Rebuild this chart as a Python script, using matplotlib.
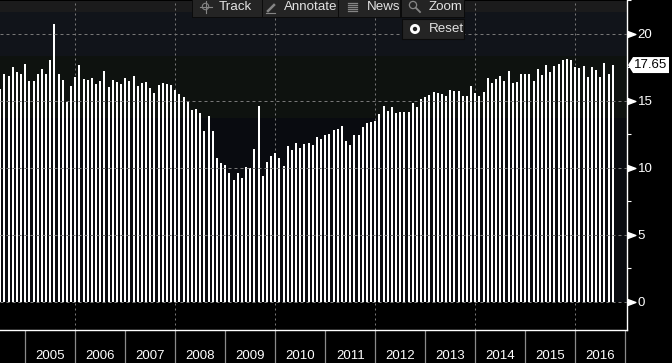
import numpy as np
import matplotlib
matplotlib.use("Agg")
import matplotlib.pyplot as plt
from matplotlib.patches import Rectangle, Polygon, Circle

plt.rcParams['font.family'] = ['Liberation Sans', 'DejaVu Sans']

values = [
 15.87,16.98,16.83,17.50,17.13,16.98,17.72,16.46,16.46,16.98,17.35,16.98,18.02,20.69,16.98,16.53,
 14.90,16.09,16.76,17.65,16.61,16.53,16.68,16.24,16.46,17.20,16.01,16.53,16.39,16.24,16.68,16.46,
 16.83,16.09,16.31,16.39,15.94,15.57,16.16,16.31,16.24,16.16,15.79,15.50,15.27,14.90,14.31,14.38,
 14.08,12.75,13.86,12.75,10.74,10.37,10.22,9.63,9.11,9.63,9.26,10.07,10.00,11.41,14.60,9.41,
 10.45,10.89,11.11,10.74,10.15,11.63,11.34,11.86,11.49,11.78,11.86,11.71,12.30,12.15,12.45,12.52,
 12.82,12.90,13.12,12.00,11.71,12.45,12.45,13.04,13.34,13.42,13.49,14.01,14.60,14.23,14.53,14.08,
 14.16,14.16,14.16,14.83,14.53,15.12,15.27,15.42,15.64,15.57,15.50,15.35,15.79,15.72,15.72,15.35,
 15.35,16.09,15.57,15.35,15.64,16.68,16.31,16.61,16.83,16.46,17.20,16.31,16.39,16.98,16.98,16.98,
 16.46,17.35,16.91,17.65,17.13,17.57,17.72,18.02,18.09,18.02,17.50,17.43,17.57,16.76,17.50,17.28,
 16.76,17.80,16.98,17.65]
start_year = 2004.5
months = [start_year + i / 12 for i in range(len(values))]
year_ticks = list(range(2005, 2018))
year_labels = [str(y) for y in range(2005, 2017)]
y_major = [0, 5, 10, 15, 20]
y_minor = [2.5, 7.5, 12.5, 17.5, 22.5]
x_grid = [2006, 2008, 2010, 2012, 2014, 2016]
last_value = 17.65
buttons = ["Track", "Annotate", "News", "Zoom"]

W, H = 672, 363
fig = plt.figure(figsize=(W / 100, H / 100), dpi=100, facecolor='black')
ax = fig.add_axes([0, (H - 329.5) / H, 626.5 / W, 329.5 / H], facecolor='black')
px_year = 50.0
ax.set_xlim(2005 - 25.3 / px_year, 2005 + (626.5 - 25.3) / px_year)
scale = 13.47
ax.set_ylim((301.7 - 329.5) / scale, 301.7 / scale)

# panel shading
bands = [(0, 11, '#1b1b1c'), (11, 55, '#11141a'), (55, 117, '#0e120f'), (117, 301.7, '#090b10')]
for top, bot, c in bands:
    ax.axhspan((301.7 - bot) / scale, (301.7 - top) / scale, color=c, lw=0, zorder=0)

grid_c = '#777777'
for v in y_major:
    ax.axhline(v, color=grid_c, lw=0.72, dashes=(3, 3), zorder=3)
for x in x_grid:
    ax.axvline(x, color=grid_c, lw=0.72, dashes=(2, 3), zorder=1)

ax.bar(months, values, width=2.0 / px_year, color='white', lw=0, zorder=2)

for s in ['left', 'top']:
    ax.spines[s].set_visible(False)
for s in ['right', 'bottom']:
    ax.spines[s].set_color('white')
    ax.spines[s].set_linewidth(1.0)

ax.yaxis.tick_right()
ax.set_yticks(y_major)
ax.set_yticklabels([str(v) for v in y_major], color='white', fontsize=9.5)
ax.set_yticks(y_minor, minor=True)
ax.tick_params(axis='y', which='major', length=0, pad=8)
ax.tick_params(axis='y', which='minor', length=3, width=0.8, color='white')
ax.plot([1] * len(y_major), y_major, transform=ax.get_yaxis_transform(), clip_on=False,
        marker=[(0, -3), (8, 0), (0, 3)], ms=12, color='white', lw=0, zorder=5)

ax.set_xticks(year_ticks)
ax.set_xticklabels([])
ax.tick_params(axis='x', which='major', length=25, width=0.9, color='#8a8a8a')
ax.set_xticks([y + 0.5 for y in range(2005, 2017)], minor=True)
ax.set_xticklabels(year_labels, minor=True, color='white', fontsize=9.5)
ax.tick_params(axis='x', which='minor', length=0, pad=15)

# overlay: toolbar and last-value flag
ov = fig.add_axes([0, 0, 1, 1], facecolor='none')
ov.set_xlim(0, W); ov.set_ylim(H, 0); ov.axis('off')

ov.add_patch(Rectangle((192, -1), 273, 18.5, fc='#0b0b0b', ec='none', zorder=1))
spans = [(193, 262), (263, 338), (339, 400), (402, 464)]
for (a, b) in spans:
    ov.add_patch(Rectangle((a, -1), b - a, 17.5, fc='#242424', ec='none', zorder=2))
ov.add_patch(Rectangle((402, 18.5), 62, 20.5, fc='#242424', ec='#0b0b0b', lw=0.8, zorder=2))
text_x = [219, 284, 366.5, 428.5]
for t, x in zip(buttons, text_x):
    ov.text(x, 7.2, t, color='#e2e2e2', fontsize=9.6, va='center', ha='left', zorder=3)
ov.text(428.5, 29, "Reset", color='#e2e2e2', fontsize=9.6, va='center', ha='left', zorder=3)
ic = '#858585'
# crosshair
ov.add_patch(Circle((205.5, 6.5), 3.2, fc='none', ec=ic, lw=0.8, zorder=3))
ov.plot([199.5, 211.5], [6.5, 6.5], color=ic, lw=0.8, zorder=3)
ov.plot([205.5, 205.5], [0.5, 12.5], color=ic, lw=0.8, zorder=3)
# pencil
ov.plot([268, 274], [11, 5], color=ic, lw=1.8, zorder=3)
ov.plot([266, 275], [12.5, 12.5], color=ic, lw=0.8, zorder=3)
# news lines
for yy in [2.5, 4.5, 6.5, 8.5, 10.5]:
    ov.plot([348, 357], [yy, yy], color=ic, lw=0.9, zorder=3)
# magnifier
ov.add_patch(Circle((413, 5), 3.6, fc='none', ec=ic, lw=0.9, zorder=3))
ov.plot([416, 420], [8, 12], color=ic, lw=1.3, zorder=3)
# reset radio
ov.add_patch(Circle((415, 29), 3.6, fc='#242424', ec='white', lw=2.0, zorder=3))

# last value flag
y_last = H - ax.transData.transform((0, last_value))[1]
ov.add_patch(Polygon([(628, y_last), (633, y_last - 8), (669, y_last - 8), (669, y_last + 8),
                      (633, y_last + 8)], closed=True, fc='white', ec='none', zorder=4))
ov.text(651, y_last + 0.3, f"{last_value:.2f}", color='black', fontsize=9.5, va='center', ha='center', zorder=5)

fig.savefig('out.png', dpi=100, facecolor='black')
